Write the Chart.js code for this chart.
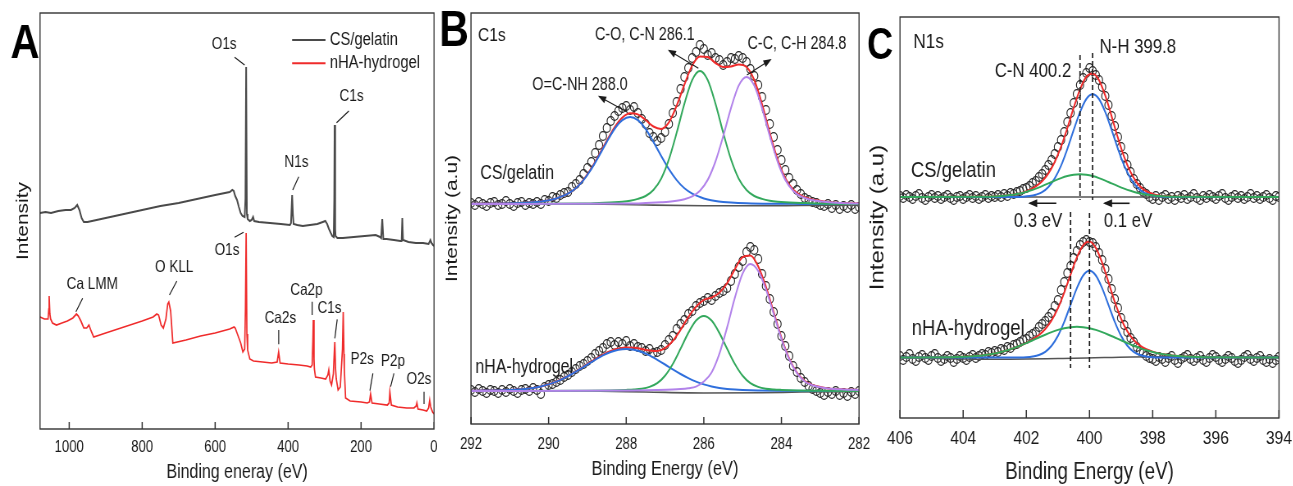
<!DOCTYPE html>
<html><head><meta charset="utf-8">
<script src="https://cdn.jsdelivr.net/npm/chart.js@4.4.1/dist/chart.umd.min.js"></script>
<style>
html,body{margin:0;padding:0;background:#fff;}
body{width:1293px;height:486px;position:relative;overflow:hidden;}
.sq{position:absolute;top:0;transform:scaleX(0.82);transform-origin:0 0;}
</style></head><body>
<div class="sq" style="left:0px"><canvas id="cA" width="537" height="486"></canvas></div>
<div class="sq" style="left:430px"><canvas id="cB" width="537" height="486"></canvas></div>
<div class="sq" style="left:858px"><canvas id="cC" width="531" height="486"></canvas></div>
<script>
// ---------------- DATA ----------------
// Panel A: survey spectra [binding energy eV, intensity a.u.]
const surveyCSgelatin = [[1080,216],[1065,217],[1050,216],[1030,218],[1010,219],[995,219],[985,221],[978,224],[972,219],[966,211],[960,207],[950,207],[900,211],[850,215],[800,219],[750,223],[700,226],[650,230],[600,234],[560,237],[553,239],[549,238],[545,233],[540,229],[535,222],[530,216],[525,213],[519,212],[517,230],[515,362],[513,215],[511,210],[505,208],[500,209],[496,212],[493,208],[480,207],[450,206],[420,205],[395,204],[392,206],[389,234],[387,215],[385,205],[375,204],[360,203],[340,204],[320,205],[305,207],[298,208],[293,205],[288,200],[283,196],[279,193],[275,192],[273.5,230],[272.5,304],[271,200],[270,193],[265,191],[250,191],[220,192],[190,193],[160,194],[148,192],[145,191],[142,210],[139,190],[130,190],[110,189],[92,188],[89,188],[87,211],[85,189],[70,187],[50,186],[30,186],[15,185],[10,189],[7,186],[3,184],[0,183]];
const surveyNHA = [[1080,112],[1068,110],[1058,110],[1056,120],[1055,133],[1053,115],[1051,110],[1046,106],[1035,104],[1020,106],[1005,108],[990,111],[980,115],[975,113],[968,108],[960,101],[952,101],[946,104],[940,98],[933,92],[900,96],[850,102],[800,108],[770,112],[760,115],[755,114],[748,104],[742,101],[735,110],[730,125],[727,127],[722,118],[716,86],[680,89],[640,93],[600,96],[560,100],[548,102],[545,101],[538,94],[530,86],[524,77],[519,80],[517,120],[515,196],[513,95],[511,79],[505,70],[495,68],[470,67],[445,66],[430,67],[426,77],[422,66],[400,65],[370,64],[348,63],[338,62],[334,64],[332,90],[331,109],[329,70],[328,60],[325,52],[310,51],[297,50],[291,54],[288.5,59],[285,48],[281,44],[276,55],[273,80],[272,87],[270,60],[268,50],[263,39],[257,42],[251,80],[249,117],[247,75],[246,60],[242.5,31],[230,28],[200,27],[183,26],[177,27],[174,35],[170,26],[150,25],[128,24],[123,26],[121,37],[117,24],[100,22],[75,21],[55,21],[49,23],[47,26],[44,20],[30,19],[20,18],[15,21],[12,29],[9,22],[4,17],[0,15]];

// Panel B: C1s high resolution
const c1sEnergy = [292.0,291.9,291.8,291.7,291.6,291.5,291.4,291.3,291.2,291.1,291.0,290.9,290.8,290.7,290.6,290.5,290.4,290.3,290.2,290.1,290.0,289.9,289.8,289.7,289.6,289.5,289.4,289.3,289.2,289.1,289.0,288.9,288.8,288.7,288.6,288.5,288.4,288.3,288.2,288.1,288.0,287.9,287.8,287.7,287.6,287.5,287.4,287.3,287.2,287.1,287.0,286.9,286.8,286.7,286.6,286.5,286.4,286.3,286.2,286.1,286.0,285.9,285.8,285.7,285.6,285.5,285.4,285.3,285.2,285.1,285.0,284.9,284.8,284.7,284.6,284.5,284.4,284.3,284.2,284.1,284.0,283.9,283.8,283.7,283.6,283.5,283.4,283.3,283.2,283.1,283.0,282.9,282.8,282.7,282.6,282.5,282.4,282.3,282.2,282.1,282.0];
const c1sCSgelatin = [221,219,222,220,218,221,222,219,220,223,220,218,221,222,219,221,220,222,220,224,223,227,226,229,231,232,237,240,244,250,256,262,271,279,288,296,303,308,313,316,318,314,317,311,305,300,291,287,283,286,292,300,311,322,335,347,356,366,372,379,375,369,371,366,364,359,362,366,365,368,366,362,355,348,339,327,314,300,287,274,264,254,246,240,234,230,226,224,222,221,219,218,220,216,219,215,218,216,219,215,217];
const c1sNHA = [34,32,35,33,31,34,33,31,34,32,35,33,31,34,35,33,36,34,30,37,39,40,42,44,47,49,52,55,58,60,63,66,70,73,76,80,82,79,82,80,83,78,80,77,76,73,75,71,72,74,79,84,88,95,100,104,110,113,118,121,123,126,124,128,131,133,136,143,150,157,163,172,177,174,165,150,138,125,112,100,88,78,68,58,52,46,42,38,35,33,31,29,32,30,33,29,31,28,32,30,33];
const c1sTopBackground = [[292,220.5],[289,220],[287.5,219],[286,218.3],[284.5,218.2],[283.5,218.6],[282,219]];
const c1sTopAmide = [[292,220.2],[291.1,220.6],[290.7,221.1],[290.5,221.5],[290.3,222.1],[290.1,223.0],[289.9,224.5],[289.7,227.0],[289.5,230.4],[289.3,235.7],[289.1,243.9],[288.9,254.8],[288.7,268.1],[288.5,282.2],[288.3,295.0],[288.1,303.8],[287.9,307.0],[287.7,303.8],[287.5,295.0],[287.3,282.2],[287.1,268.1],[286.9,254.8],[286.7,243.9],[286.5,235.7],[286.3,230.4],[286.1,227.0],[285.9,224.5],[285.7,223.0],[285.5,222.1],[285.3,221.5],[284.9,220.8],[284.3,220.3],[283.5,220.1],[282,220]];
const c1sTopCO = [[292,220],[289.1,220.5],[288.7,221.1],[288.3,221.7],[288.1,222.3],[287.9,223.3],[287.7,225.1],[287.5,228.0],[287.3,234.0],[287.1,245.3],[286.9,264.6],[286.7,291.2],[286.5,320.4],[286.3,344.0],[286.1,353.0],[285.9,344.0],[285.7,320.4],[285.5,291.2],[285.3,264.6],[285.1,245.3],[284.9,234.0],[284.7,228.0],[284.5,225.1],[284.3,223.3],[284.1,222.3],[283.9,221.7],[283.5,221.1],[283.1,220.5],[282,220]];
const c1sTopCC = [[292,220],[287.9,220.5],[287.5,221.0],[287.1,221.7],[286.9,222.2],[286.7,223.2],[286.5,224.8],[286.3,227.6],[286.1,233.3],[285.9,244.1],[285.7,262.5],[285.5,287.9],[285.3,315.9],[285.1,338.4],[284.9,347.0],[284.7,338.4],[284.5,315.9],[284.3,287.9],[284.1,262.5],[283.9,244.1],[283.7,233.3],[283.5,227.6],[283.3,224.8],[283.1,223.2],[282.9,222.2],[282.5,221.0],[282,220.4]];
const c1sTopEnvelope = [[292,220.2],[291.1,220.6],[290.7,221.1],[290.3,222.1],[290.1,223.0],[289.9,224.5],[289.7,227.0],[289.5,230.4],[289.3,235.7],[289.1,244.4],[288.9,255.6],[288.7,269.2],[288.5,283.5],[288.3,296.7],[288.1,306.4],[287.9,310.8],[287.7,309.6],[287.5,304.0],[287.3,297.5],[287.1,295.1],[286.9,301.6],[286.7,318.3],[286.5,339.5],[286.3,358.5],[286.1,367.5],[285.9,367.0],[285.7,361.0],[285.5,357.0],[285.3,357.5],[285.1,359.5],[284.9,357.0],[284.7,344.0],[284.5,320.0],[284.3,291.0],[284.1,264.8],[283.9,245.8],[283.7,234.6],[283.5,228.7],[283.3,225.6],[283.1,223.7],[282.9,222.5],[282.5,221.0],[282,220.4]];
const c1sBotBackground = [[292,33.3],[289,33],[287.5,32],[286,31],[284.5,31.2],[283.5,32],[282,32.5]];
const c1sBotAmide = [[292,33.2],[291,34.0],[290.6,35.0],[290.4,36.0],[290.2,37.5],[290,39.6],[289.8,42.4],[289.6,45.9],[289.4,50.0],[289.2,54.6],[289,59.5],[288.8,64.2],[288.6,68.6],[288.4,72.0],[288.2,74.2],[288,75.0],[287.8,74.2],[287.6,72.0],[287.4,68.6],[287.2,64.2],[287,59.5],[286.8,54.6],[286.6,50.0],[286.4,45.9],[286.2,42.4],[286,39.6],[285.8,37.5],[285.6,36.0],[285.4,35.0],[285.2,34.4],[285,34.0],[284.6,33.5],[284,33.2],[282,33]];
const c1sBotCO = [[292,33],[289,33.3],[288.4,33.6],[288,34.1],[287.8,34.5],[287.6,35.3],[287.4,37.1],[287.2,40.8],[287,48.2],[286.8,60.0],[286.6,75.2],[286.4,91.1],[286.2,103.4],[286,108.0],[285.8,103.4],[285.6,91.1],[285.4,75.2],[285.2,60.0],[285,48.2],[284.8,40.8],[284.6,37.1],[284.4,35.3],[284.2,34.5],[284,34.1],[283.6,33.6],[283,33.3],[282,33]];
const c1sBotCC = [[292,33],[287.8,33.5],[287.2,33.9],[286.8,34.4],[286.6,34.9],[286.4,35.8],[286.2,37.4],[286,42.5],[285.8,51.5],[285.6,70.1],[285.4,96.6],[285.2,126.3],[285,150.6],[284.8,160.0],[284.6,153.1],[284.4,134.6],[284.2,110.1],[284,85.1],[283.8,64.8],[283.6,50.8],[283.4,42.5],[283.2,38.7],[283,36.8],[282.8,35.5],[282.4,34.5],[282,34.0]];
const c1sBotEnvelope = [[292,33.2],[291,34.0],[290.6,35.0],[290.4,36.0],[290.2,37.5],[290,39.7],[289.8,42.5],[289.6,46.1],[289.4,50.2],[289.2,54.9],[289,60.0],[288.8,64.9],[288.6,69.4],[288.4,73.0],[288.2,75.4],[288,76.6],[287.8,76.2],[287.6,75.0],[287.4,73.5],[287.2,72.9],[287,75.8],[286.8,83.0],[286.6,94.1],[286.4,106.8],[286.2,117.2],[286,124.1],[285.8,126.4],[285.6,131.2],[285.4,140.8],[285.2,154.7],[285,166.8],[284.8,168.5],[284.6,157.7],[284.4,137.3],[284.2,111.9],[284,86.4],[283.8,65.6],[283.6,51.4],[283.4,43.0],[283.2,39.1],[283,37.1],[282.8,35.5],[282.4,34.5],[282,34.0]];

// Panel C: N1s high resolution
const n1sEnergy = [406.0,405.9,405.8,405.7,405.6,405.5,405.4,405.3,405.2,405.1,405.0,404.9,404.8,404.7,404.6,404.5,404.4,404.3,404.2,404.1,404.0,403.9,403.8,403.7,403.6,403.5,403.4,403.3,403.2,403.1,403.0,402.9,402.8,402.7,402.6,402.5,402.4,402.3,402.2,402.1,402.0,401.9,401.8,401.7,401.6,401.5,401.4,401.3,401.2,401.1,401.0,400.9,400.8,400.7,400.6,400.5,400.4,400.3,400.2,400.1,400.0,399.9,399.8,399.7,399.6,399.5,399.4,399.3,399.2,399.1,399.0,398.9,398.8,398.7,398.6,398.5,398.4,398.3,398.2,398.1,398.0,397.9,397.8,397.7,397.6,397.5,397.4,397.3,397.2,397.1,397.0,396.9,396.8,396.7,396.6,396.5,396.4,396.3,396.2,396.1,396.0,395.9,395.8,395.7,395.6,395.5,395.4,395.3,395.2,395.1,395.0,394.9,394.8,394.7,394.6,394.5,394.4,394.3,394.2,394.1,394.0];
const n1sCSgelatin = [222,220,223,221,219,222,224,220,218,221,223,220,222,219,221,223,220,218,221,222,219,221,223,220,222,219,221,223,220,222,221,223,221,224,222,225,224,226,227,229,230,232,235,237,241,244,248,253,258,264,271,278,286,296,305,315,324,333,340,345,350,347,343,338,331,322,313,302,292,281,271,261,253,246,239,234,230,226,224,221,219,222,218,221,223,219,221,218,222,220,223,219,221,224,220,218,222,220,223,221,219,222,224,220,218,221,223,220,222,219,221,224,220,222,219,221,223,220,218,222,221];
const n1sNHA = [62,58,61,64,59,57,61,63,60,58,62,64,60,57,59,62,60,56,59,62,60,58,61,63,60,62,64,63,66,65,67,66,69,68,71,70,73,74,76,78,79,82,84,86,91,94,97,101,105,112,118,128,136,145,152,160,167,173,176,178,176,175,171,165,158,149,139,129,119,110,100,93,86,80,76,71,67,65,62,60,59,57,61,59,56,60,62,58,55,59,61,63,59,57,60,62,58,56,60,63,61,58,56,59,62,60,57,55,58,61,63,59,57,60,62,58,56,59,55,58,61];
const n1sTopBackground = [[406,221],[394,221]];
const n1sTopNH = [[406,221],[402.3,221.1],[402.1,221.3],[401.9,221.9],[401.7,223.3],[401.5,225.9],[401.3,231.1],[401.1,239.7],[400.9,252.4],[400.7,269.2],[400.5,288.1],[400.3,305.9],[400.1,319.0],[399.9,323.7],[399.7,319.0],[399.5,305.9],[399.3,288.1],[399.1,269.2],[398.9,252.4],[398.7,239.7],[398.5,231.1],[398.3,225.9],[398.1,223.3],[397.9,221.9],[397.7,221.3],[397.5,221.1],[394,221]];
const n1sTopCN = [[406,221],[403.3,221.2],[403.1,221.4],[402.9,221.7],[402.7,222.2],[402.5,222.9],[402.3,224.0],[402.1,225.3],[401.9,227.2],[401.7,229.4],[401.5,231.9],[401.3,234.6],[401.1,237.4],[400.9,239.9],[400.7,241.9],[400.5,243.2],[400.3,243.7],[400.1,243.2],[399.9,241.9],[399.7,239.9],[399.5,237.4],[399.3,234.6],[399.1,231.9],[398.9,229.4],[398.7,227.2],[398.5,225.3],[398.3,224.0],[398.1,222.9],[397.9,222.2],[397.7,221.7],[397.5,221.4],[397.3,221.2],[394,221]];
const n1sTopEnvelope = [[406,221],[403.3,221.2],[403.1,221.4],[402.9,221.7],[402.7,222.2],[402.5,222.9],[402.3,224.0],[402.1,225.6],[401.9,228.1],[401.7,231.7],[401.5,236.8],[401.3,244.7],[401.1,256.1],[400.9,271.3],[400.7,290.1],[400.5,310.3],[400.3,328.6],[400.1,341.2],[399.9,344.6],[399.7,337.9],[399.5,322.3],[399.3,301.7],[399.1,280.1],[398.9,260.8],[398.7,245.9],[398.5,235.4],[398.3,228.9],[398.1,225.2],[397.9,223.1],[397.7,222.0],[397.5,221.4],[397.3,221.2],[394,221]];
const n1sBotBackground = [[406,60.5],[403.2,58.8],[400.5,59.8],[398,61.3],[394,60.8]];
const n1sBotNH = [[406,60.5],[402.2,60.6],[402,60.8],[401.8,61.5],[401.6,63.0],[401.4,66.2],[401.2,72.2],[401,82.1],[400.8,96.1],[400.6,113.1],[400.4,129.9],[400.2,142.5],[400,147.2],[399.8,142.5],[399.6,129.9],[399.4,113.1],[399.2,96.1],[399,82.1],[398.8,72.2],[398.6,66.2],[398.4,63.0],[398.2,61.5],[398,60.8],[397.8,60.6],[394,60.5]];
const n1sBotCN = [[406,60.5],[404.4,60.8],[404,61.2],[403.6,62.0],[403.4,62.6],[403.2,63.5],[403,64.6],[402.8,66.1],[402.6,67.8],[402.4,69.9],[402.2,72.3],[402,74.9],[401.8,77.7],[401.6,80.5],[401.4,83.3],[401.2,85.9],[401,88.1],[400.8,89.8],[400.6,90.8],[400.4,91.2],[400.2,90.8],[400,89.8],[399.8,88.1],[399.6,85.9],[399.4,83.3],[399.2,80.5],[399,77.7],[398.8,74.9],[398.6,72.3],[398.4,69.9],[398.2,67.8],[398,66.1],[397.8,64.6],[397.6,63.5],[397.4,62.6],[397.2,62.0],[396.8,61.2],[396.4,60.8],[394,60.5]];
const n1sBotEnvelope = [[406,60.5],[404.4,60.8],[404,61.2],[403.6,62.0],[403.4,62.6],[403.2,63.5],[403,64.6],[402.8,66.1],[402.6,67.8],[402.4,69.9],[402.2,72.3],[402,75.2],[401.8,78.7],[401.6,83.0],[401.4,89.0],[401.2,97.6],[401,109.7],[400.8,125.4],[400.6,143.4],[400.4,160.6],[400.2,172.8],[400,176.5],[399.8,170.1],[399.6,155.3],[399.4,135.9],[399.2,116.1],[399,99.3],[398.8,86.6],[398.6,78.0],[398.4,72.4],[398.2,68.8],[398,66.4],[397.8,64.6],[397.6,63.5],[397.4,62.6],[397.2,62.0],[396.8,61.2],[396.4,60.8],[394,60.5]];

// ---------------- STYLE / HELPERS ----------------
const FN = "'Liberation Sans',Arial,'DejaVu Sans',sans-serif";
const INK = '#1a1a1a';
const COL = {gray:'#4a4a4a', red:'#ef2b2b', blue:'#2f6fdc', green:'#33a85c', purple:'#b283ea', bg:'#555555'};
const pts = arr => arr.map(p => ({x:p[0], y:p[1]}));
const zipPts = (xs, ys) => xs.map((v,i) => ({x:v, y:ys[i]}));

function lineDS(data, color, width, order, smooth) {
  return {type:'line', data:pts(data), borderColor:color, borderWidth:width, pointRadius:0, fill:false,
    order:order, tension:0, cubicInterpolationMode: smooth ? 'monotone' : 'default'};
}
function dotDS(xs, ys, order) {
  return {type:'line', data:zipPts(xs, ys), showLine:false, pointRadius:4.4, pointBorderWidth:1.15,
    pointBorderColor:'#262626', pointBackgroundColor:'rgba(0,0,0,0)', order:order};
}

function notes(cfg) {
  return {
    id: 'notes',
    afterDraw(chart) {
      const {ctx, chartArea:a, scales:{x, y}} = chart;
      const X = v => x.getPixelForValue(v), Y = v => y.getPixelForValue(v);
      ctx.save();
      ctx.strokeStyle = '#333'; ctx.lineWidth = cfg.frame;
      ctx.strokeRect(a.left, a.top, a.right - a.left, a.bottom - a.top);
      ctx.beginPath();
      x.ticks.forEach(t => { const px = X(t.value); ctx.moveTo(px, a.bottom); ctx.lineTo(px, a.bottom - cfg.tick); });
      ctx.lineWidth = 1.5; ctx.stroke();
      (cfg.lines || []).forEach(l => {
        ctx.save();
        ctx.strokeStyle = l.color || INK; ctx.fillStyle = l.color || INK; ctx.lineWidth = l.width || 1.2;
        if (l.dash) ctx.setLineDash(l.dash);
        const x1 = X(l.p[0]), y1 = Y(l.p[1]), x2 = X(l.p[2]), y2 = Y(l.p[3]);
        ctx.beginPath(); ctx.moveTo(x1, y1); ctx.lineTo(x2, y2); ctx.stroke();
        if (l.arrow) {
          ctx.setLineDash([]);
          const ang = Math.atan2(y2 - y1, x2 - x1), L = l.arrow, W = l.arrow * 0.45;
          ctx.beginPath();
          ctx.moveTo(x2 + Math.cos(ang) * 2, y2 + Math.sin(ang) * 2);
          ctx.lineTo(x2 - L * Math.cos(ang) + W * Math.sin(ang), y2 - L * Math.sin(ang) - W * Math.cos(ang));
          ctx.lineTo(x2 - L * Math.cos(ang) - W * Math.sin(ang), y2 - L * Math.sin(ang) + W * Math.cos(ang));
          ctx.closePath(); ctx.fill();
        }
        ctx.restore();
      });
      ctx.fillStyle = INK; ctx.textBaseline = 'middle';
      (cfg.texts || []).forEach(t => {
        ctx.font = t.size + 'px ' + FN;
        ctx.textAlign = t.align || 'center';
        ctx.fillText(t.text, X(t.at[0]), Y(t.at[1]));
      });
      if (cfg.letter) {
        ctx.font = 'bold ' + cfg.letter.size + 'px ' + FN;
        ctx.textAlign = 'center'; ctx.fillStyle = '#000';
        ctx.fillText(cfg.letter.text, cfg.letter.px, cfg.letter.py);
      }
      ctx.restore();
    }
  };
}

function makeChart(id, o) {
  return new Chart(document.getElementById(id), {
    data: {datasets: o.datasets},
    options: {
      responsive:false, animation:false, events:[],
      layout:{padding:{top:o.padTop, right:o.padRight, left:0, bottom:0}},
      plugins:{legend:{display:false}, tooltip:{enabled:false}},
      scales:{
        x:{type:'linear', reverse:true, min:o.xmin, max:o.xmax,
          afterFit: s => { s.height = o.xHeight; },
          grid:{display:false, drawTicks:true, tickLength:o.tickGap}, border:{display:false},
          ticks:{stepSize:o.step, includeBounds:false, autoSkip:false, maxRotation:0, padding:0,
            color:INK, font:{family:FN, size:o.tickSize}, callback: v => String(v)},
          title:{display:true, text:o.xTitle, color:INK, font:{family:FN, size:o.xTitleSize}, padding:{top:0, bottom:o.xTitlePad}}},
        y:{type:'linear', min:0, max:o.ymax,
          afterFit: s => { s.width = o.yWidth; },
          grid:{display:false, drawTicks:false}, border:{display:false},
          ticks:{display:false},
          title:{display:true, text:o.yTitle, color:INK, font:{family:FN, size:o.yTitleSize}, padding:{top:o.yTitlePad, bottom:0}}}
      }
    },
    plugins:[notes(o.notes)]
  });
}

// ---------------- PANEL A ----------------
makeChart('cA', {
  datasets:[lineDS(surveyCSgelatin, COL.gray, 2, 2, false), lineDS(surveyNHA, COL.red, 1.7, 1, false)],
  xmin:0, xmax:1080, step:200, ymax:416, padTop:13, padRight:7.7, xHeight:57, yWidth:48.8,
  tickGap:9, tickSize:16, xTitle:'Binding eneray (eV)', xTitleSize:19.5, xTitlePad:2,
  yTitle:'Intensity', yTitleSize:21, yTitlePad:16,
  notes:{frame:1.4, tick:7,
    letter:{text:'A', px:30.5, py:44, size:49},
    lines:[
      {p:[546.7,371.7,519.2,364]},{p:[233.5,318,267.3,306.3]},{p:[370.9,252.3,387.4,239]},{p:[546.7,191.7,522,196.7]},
      {p:[963.2,130.7,981.6,117.3]},{p:[705,148,725.3,134]},{p:[425.8,99,425.8,84.7]},{p:[334,127.3,334,114]},
      {p:[265.4,109.7,272,90.7]},{p:[167.6,55.7,175.8,38.3]},{p:[109.9,55.7,119,42.3]},{p:[27.5,37.3,27.5,25]},
      {p:[389,389,297.5,389], color:COL.gray, width:2},{p:[389,365.7,297.5,365.7], color:COL.red, width:2}
    ],
    texts:[
      {text:'O1s', at:[575,384.7], size:16.5},{text:'C1s', at:[226,332.3], size:16.5},{text:'N1s', at:[377.2,266.3], size:16.5},
      {text:'O1s', at:[567.6,179], size:16.5},{text:'Ca LMM', at:[936.8,144.7], size:16.5},{text:'O KLL', at:[712.4,161.3], size:16.5},
      {text:'Ca2s', at:[421.2,110.7], size:16.5},{text:'Ca2p', at:[349.7,139], size:16.5},{text:'C1s', at:[286.5,120.7], size:16.5},
      {text:'P2s', at:[196.7,69.7], size:16.5},{text:'P2p', at:[112.6,68], size:16.5},{text:'O2s', at:[41.2,49.7], size:16.5},
      {text:'CS/gelatin', at:[285.7,389], size:18, align:'left'},{text:'nHA-hydrogel', at:[285.7,365.7], size:18, align:'left'}
    ]}
});

// ---------------- PANEL B ----------------
makeChart('cB', {
  datasets:[
    dotDS(c1sEnergy, c1sCSgelatin, 10), dotDS(c1sEnergy, c1sNHA, 10),
    lineDS(c1sTopBackground, COL.bg, 1.6, 9, true), lineDS(c1sBotBackground, COL.bg, 1.6, 9, true),
    lineDS(c1sTopEnvelope, COL.red, 2, 8, true), lineDS(c1sBotEnvelope, COL.red, 2, 8, true),
    lineDS(c1sTopAmide, COL.blue, 2, 7, true), lineDS(c1sBotAmide, COL.blue, 2, 7, true),
    lineDS(c1sTopCO, COL.green, 2, 6, true), lineDS(c1sBotCO, COL.green, 2, 6, true),
    lineDS(c1sTopCC, COL.purple, 2, 5, true), lineDS(c1sBotCC, COL.purple, 2, 5, true)
  ],
  xmin:282, xmax:292, step:2, ymax:411, padTop:13, padRight:13.8, xHeight:62, yWidth:50,
  tickGap:10.5, tickSize:16, xTitle:'Binding Energy (eV)', xTitleSize:20, xTitlePad:5,
  yTitle:'Intensity (a.u)', yTitleSize:21, yTitlePad:14.2,
  notes:{frame:1.4, tick:7,
    letter:{text:'B', px:29.3, py:32, size:50},
    lines:[
      {p:[287.99,312.3,288.69,327.3], arrow:8},
      {p:[286.14,355.7,286.89,373.3], arrow:8},
      {p:[284.89,349,284.29,364], arrow:8}
    ],
    texts:[
      {text:'C1s', at:[291.82,388], size:19, align:'left'},
      {text:'C-O, C-N 286.1', at:[287.52,389], size:17.5},
      {text:'O=C-NH 288.0', at:[289.19,339], size:17.5},
      {text:'C-C, C-H 284.8', at:[283.6,380], size:17.5},
      {text:'CS/gelatin', at:[290.81,250], size:19.5},
      {text:'nHA-hydrogel', at:[290.63,56], size:19.5}
    ]}
});

// ---------------- PANEL C ----------------
makeChart('cC', {
  datasets:[
    dotDS(n1sEnergy, n1sCSgelatin, 10), dotDS(n1sEnergy, n1sNHA, 10),
    lineDS(n1sTopBackground, COL.bg, 1.6, 9, true), lineDS(n1sBotBackground, COL.bg, 1.6, 9, true),
    lineDS(n1sTopEnvelope, COL.red, 2, 8, true), lineDS(n1sBotEnvelope, COL.red, 2, 8, true),
    lineDS(n1sTopNH, COL.blue, 2, 7, true), lineDS(n1sBotNH, COL.blue, 2, 7, true),
    lineDS(n1sTopCN, COL.green, 2, 6, true), lineDS(n1sBotCN, COL.green, 2, 6, true)
  ],
  xmin:394, xmax:406, step:2, ymax:401, padTop:17, padRight:17.6, xHeight:68, yWidth:51.2,
  tickGap:9.6, tickSize:19, xTitle:'Binding Energy (eV)', xTitleSize:23, xTitlePad:0,
  yTitle:'Intensity (a.u)', yTitleSize:24, yTitlePad:10,
  notes:{frame:1.4, tick:8,
    letter:{text:'C', px:26.8, py:47, size:44},
    lines:[
      {p:[400.3,363,400.3,218], dash:[5,3], width:1.7},
      {p:[399.9,365,399.9,218], dash:[5,3], width:1.7},
      {p:[400.6,206,400.6,50], dash:[5,3], width:1.7},
      {p:[400.0,205,400.0,50], dash:[5,3], width:1.7},
      {p:[401.05,214.7,401.89,214.7], arrow:9, width:1.6},
      {p:[398.73,214.7,399.52,214.7], arrow:9, width:1.6}
    ],
    texts:[
      {text:'N1s', at:[405.58,375.3], size:21, align:'left'},
      {text:'N-H 399.8', at:[398.47,370.7], size:20.5},
      {text:'C-N 400.2', at:[401.79,347], size:20.5},
      {text:'CS/gelatin', at:[404.31,247.3], size:22.5},
      {text:'nHA-hydrogel', at:[403.84,89.7], size:22.5},
      {text:'0.3 eV', at:[401.63,196.3], size:20.5},
      {text:'0.1 eV', at:[398.78,196.3], size:20.5}
    ]}
});
</script>
</body></html>
